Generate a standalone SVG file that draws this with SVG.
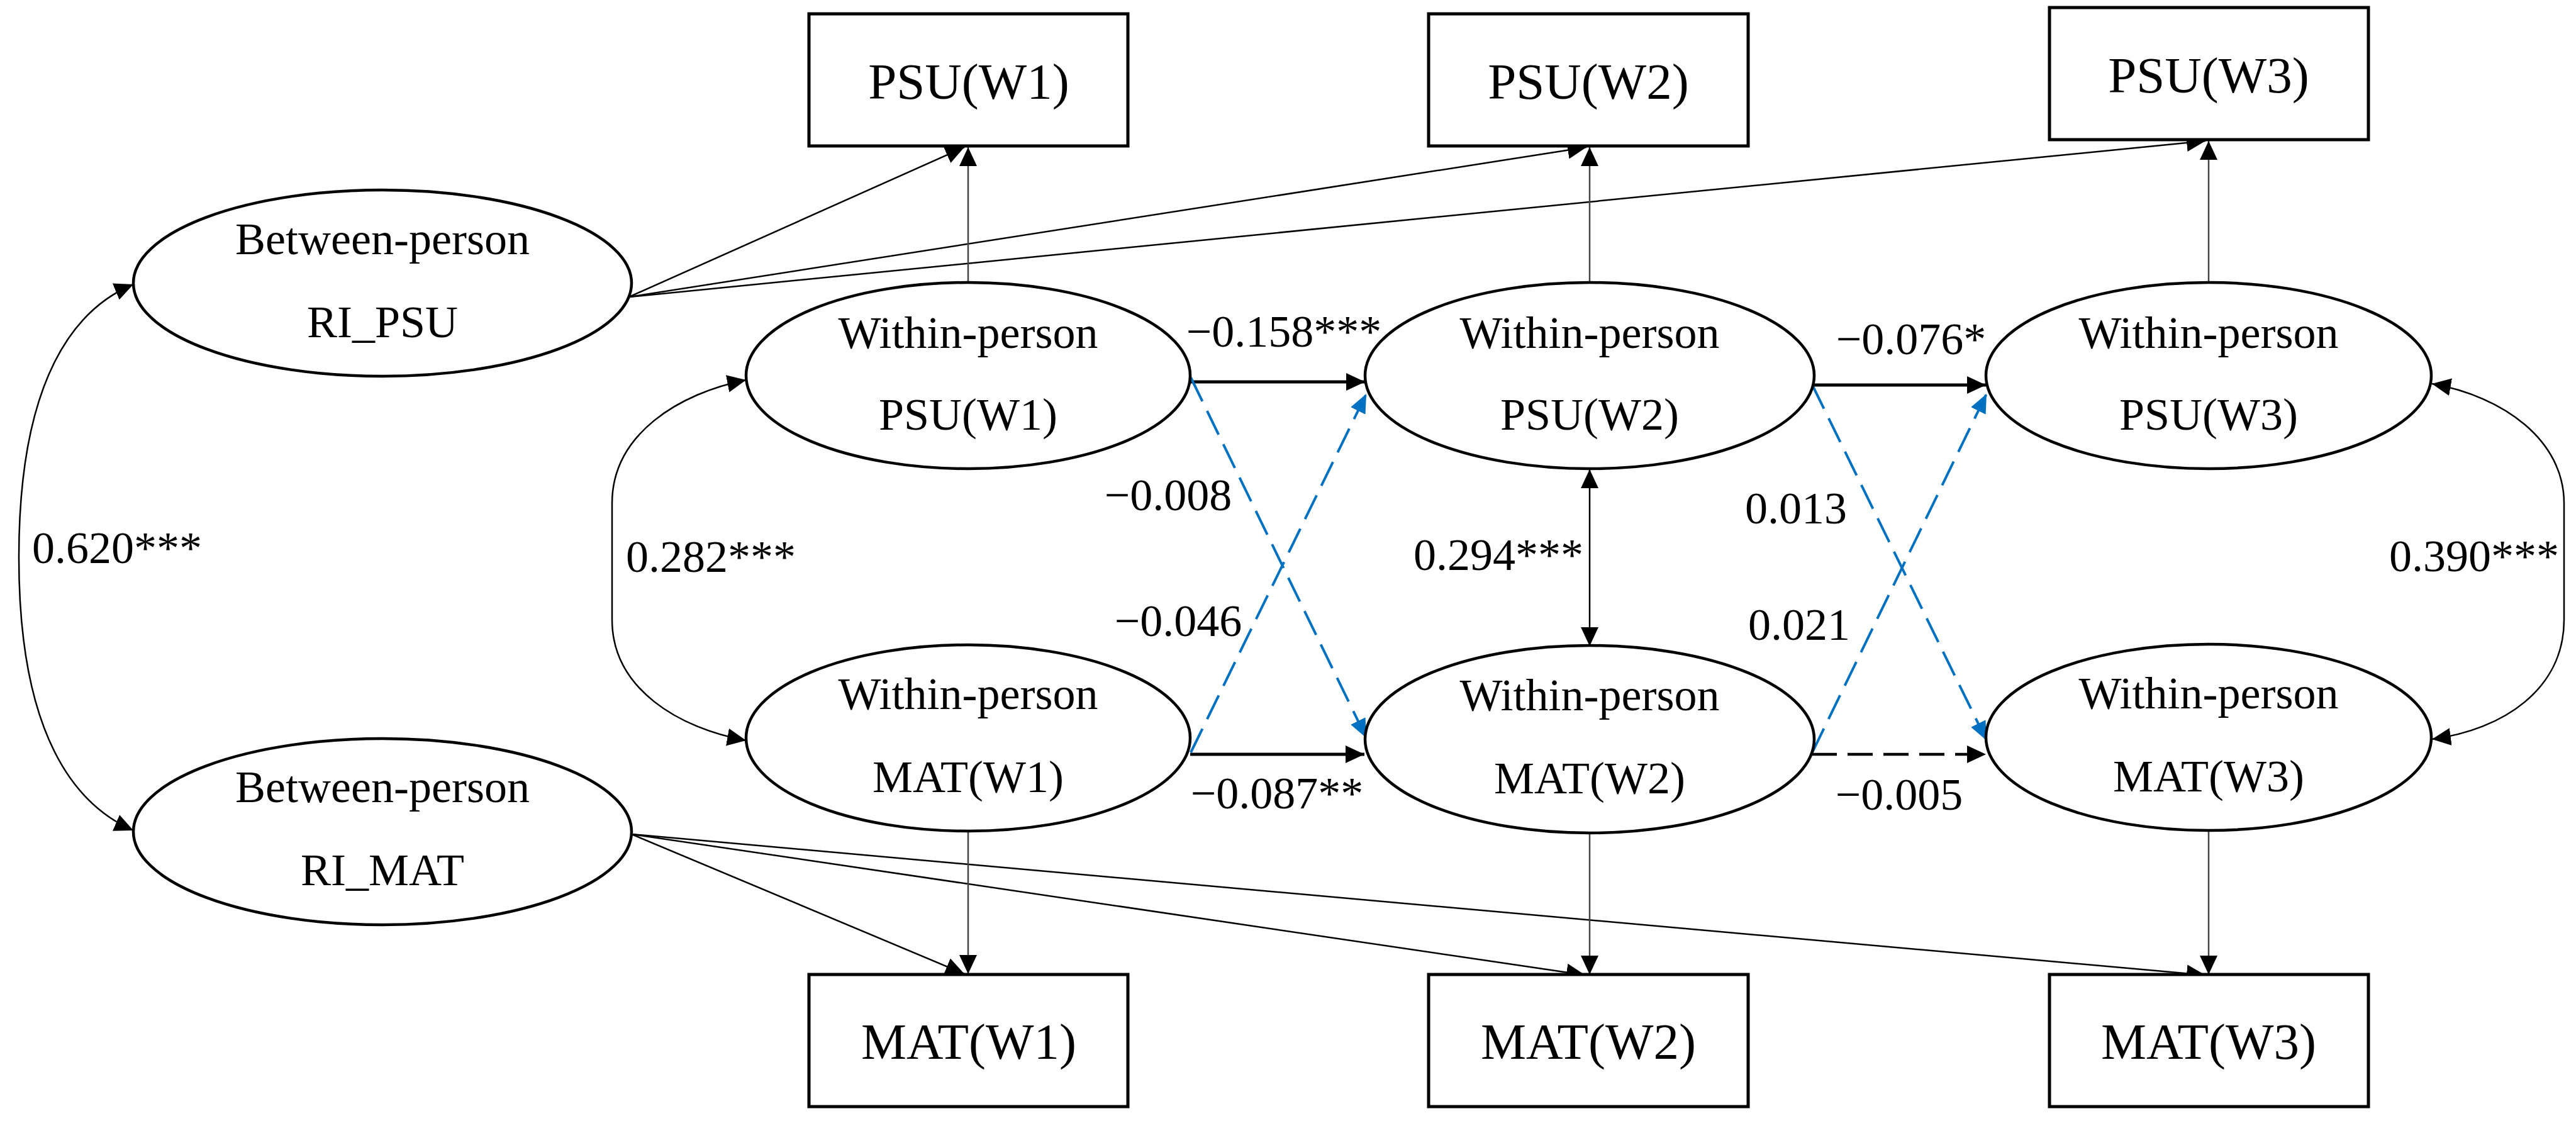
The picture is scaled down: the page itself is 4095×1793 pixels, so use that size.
<svg xmlns="http://www.w3.org/2000/svg" width="4095" height="1793" viewBox="0 0 4095 1793">
<defs>
<marker id="ah" markerUnits="userSpaceOnUse" viewBox="0 0 30 28" refX="30" refY="14" markerWidth="30" markerHeight="28" orient="auto-start-reverse"><path d="M0,0 L30,14 L0,28 Z" fill="#000"/></marker>
<marker id="ahb" markerUnits="userSpaceOnUse" viewBox="0 0 30 26" refX="30" refY="13" markerWidth="30" markerHeight="26" orient="auto"><path d="M0,0 L30,13 L0,26 Z" fill="#0070C0"/></marker>
</defs>
<style>
.box{fill:#fff;stroke:#000;stroke-width:5}
.ell{fill:#fff;stroke:#000;stroke-width:4.5}
.t{font-family:"Liberation Serif","Times New Roman",serif;fill:#000;text-anchor:middle}
.bt{font-size:81px}
.et{font-size:72px}
.lb{font-size:72px}
.thin{fill:none;stroke:#000;stroke-width:2.5;marker-end:url(#ah)}
.vert{fill:none;stroke:#444;stroke-width:2.5;marker-end:url(#ah)}
.reg{fill:none;stroke:#000;stroke-width:5;marker-end:url(#ah)}
.regd{fill:none;stroke:#000;stroke-width:4.5;stroke-dasharray:40 17;marker-end:url(#ah)}
.blue{fill:none;stroke:#0070C0;stroke-width:4;stroke-dasharray:42 17;marker-end:url(#ahb)}
.cov{fill:none;stroke:#000;stroke-width:2.5;marker-start:url(#ah);marker-end:url(#ah)}
</style>
<rect width="4095" height="1793" fill="#fff"/>
<g id="connectors">
<line class="thin" x1="1000" y1="472" x2="1533" y2="234"/>
<line class="thin" x1="1000" y1="472" x2="2522" y2="234"/>
<line class="thin" x1="1000" y1="472" x2="3506" y2="224"/>
<line class="thin" x1="1004" y1="1326" x2="1533" y2="1548"/>
<line class="thin" x1="1004" y1="1326" x2="2520" y2="1550"/>
<line class="thin" x1="1004" y1="1326" x2="3506" y2="1550"/>
<line class="vert" x1="1539" y1="449" x2="1539" y2="234"/>
<line class="vert" x1="2527" y1="449" x2="2527" y2="234"/>
<line class="vert" x1="3511" y1="449" x2="3511" y2="224"/>
<line class="vert" x1="1539" y1="1321" x2="1539" y2="1548"/>
<line class="vert" x1="2527" y1="1323" x2="2527" y2="1549"/>
<line class="vert" x1="3511" y1="1321" x2="3511" y2="1549"/>
<line class="reg" x1="1892" y1="607" x2="2170" y2="607"/>
<line class="reg" x1="2882" y1="612" x2="3157" y2="612"/>
<line class="reg" x1="1892" y1="1199" x2="2169" y2="1199"/>
<line class="regd" x1="2880" y1="1199" x2="3157" y2="1199"/>
<line class="blue" x1="1893" y1="600" x2="2172" y2="1173"/>
<line class="blue" x1="1893" y1="1196" x2="2172" y2="626"/>
<line class="blue" x1="2881" y1="612" x2="3158" y2="1177"/>
<line class="blue" x1="2881" y1="1196" x2="3158" y2="626"/>
<line class="cov" x1="2527" y1="746" x2="2527" y2="1027"/>
<path class="cov" d="M1186,604 C1080,625 973,690 973,800 L973,985 C973,1095 1080,1158 1186,1177"/>
<path class="cov" d="M3866,610 C3980,630 4076,700 4076,800 L4076,985 C4076,1095 3980,1160 3866,1175"/>
<path class="cov" d="M212,452 C120,490 30,600 30,886 C30,1170 120,1280 212,1320"/>
</g>
<g id="labels">
<text class="t lb" x="2041" y="551">−0.158***</text>
<text class="t lb" x="3038" y="563">−0.076*</text>
<text class="t lb" x="2030" y="1285">−0.087**</text>
<text class="t lb" x="3019" y="1287">−0.005</text>
<text class="t lb" x="1857" y="811">−0.008</text>
<text class="t lb" x="1873" y="1011">−0.046</text>
<text class="t lb" x="2855" y="832">0.013</text>
<text class="t lb" x="2860" y="1017">0.021</text>
<text class="t lb" x="2382" y="906">0.294***</text>
<text class="t lb" x="1130" y="909">0.282***</text>
<text class="t lb" x="186" y="895">0.620***</text>
<text class="t lb" x="3933" y="908">0.390***</text>
</g>
<g id="box-psu1"><rect class="box" x="1286" y="22" width="507" height="210"/><text class="t bt" x="1540" y="157">PSU(W1)</text></g>
<g id="box-psu2"><rect class="box" x="2271" y="22" width="508" height="210"/><text class="t bt" x="2525" y="157">PSU(W2)</text></g>
<g id="box-psu3"><rect class="box" x="3258" y="12" width="507" height="210"/><text class="t bt" x="3511" y="147">PSU(W3)</text></g>
<g id="box-mat1"><rect class="box" x="1286" y="1549" width="507" height="210"/><text class="t bt" x="1540" y="1683">MAT(W1)</text></g>
<g id="box-mat2"><rect class="box" x="2271" y="1549" width="508" height="210"/><text class="t bt" x="2525" y="1683">MAT(W2)</text></g>
<g id="box-mat3"><rect class="box" x="3258" y="1549" width="507" height="210"/><text class="t bt" x="3511" y="1683">MAT(W3)</text></g>
<g id="ri-psu"><ellipse class="ell" cx="608" cy="450" rx="396" ry="148"/><text class="t et" x="608" y="404">Between-person</text><text class="t et" x="608" y="536">RI_PSU</text></g>
<g id="ri-mat"><ellipse class="ell" cx="608" cy="1322" rx="396" ry="148"/><text class="t et" x="608" y="1275">Between-person</text><text class="t et" x="608" y="1407">RI_MAT</text></g>
<g id="w-psu1"><ellipse class="ell" cx="1539" cy="597" rx="353" ry="148"/><text class="t et" x="1539" y="553">Within-person</text><text class="t et" x="1539" y="683">PSU(W1)</text></g>
<g id="w-psu2"><ellipse class="ell" cx="2527" cy="597" rx="357" ry="148"/><text class="t et" x="2527" y="553">Within-person</text><text class="t et" x="2527" y="683">PSU(W2)</text></g>
<g id="w-psu3"><ellipse class="ell" cx="3511" cy="597" rx="354" ry="148"/><text class="t et" x="3511" y="553">Within-person</text><text class="t et" x="3511" y="683">PSU(W3)</text></g>
<g id="w-mat1"><ellipse class="ell" cx="1539" cy="1173" rx="353" ry="148"/><text class="t et" x="1539" y="1127">Within-person</text><text class="t et" x="1539" y="1259">MAT(W1)</text></g>
<g id="w-mat2"><ellipse class="ell" cx="2527" cy="1175" rx="357" ry="149"/><text class="t et" x="2527" y="1129">Within-person</text><text class="t et" x="2527" y="1261">MAT(W2)</text></g>
<g id="w-mat3"><ellipse class="ell" cx="3511" cy="1172" rx="354" ry="148"/><text class="t et" x="3511" y="1126">Within-person</text><text class="t et" x="3511" y="1258">MAT(W3)</text></g>
</svg>
